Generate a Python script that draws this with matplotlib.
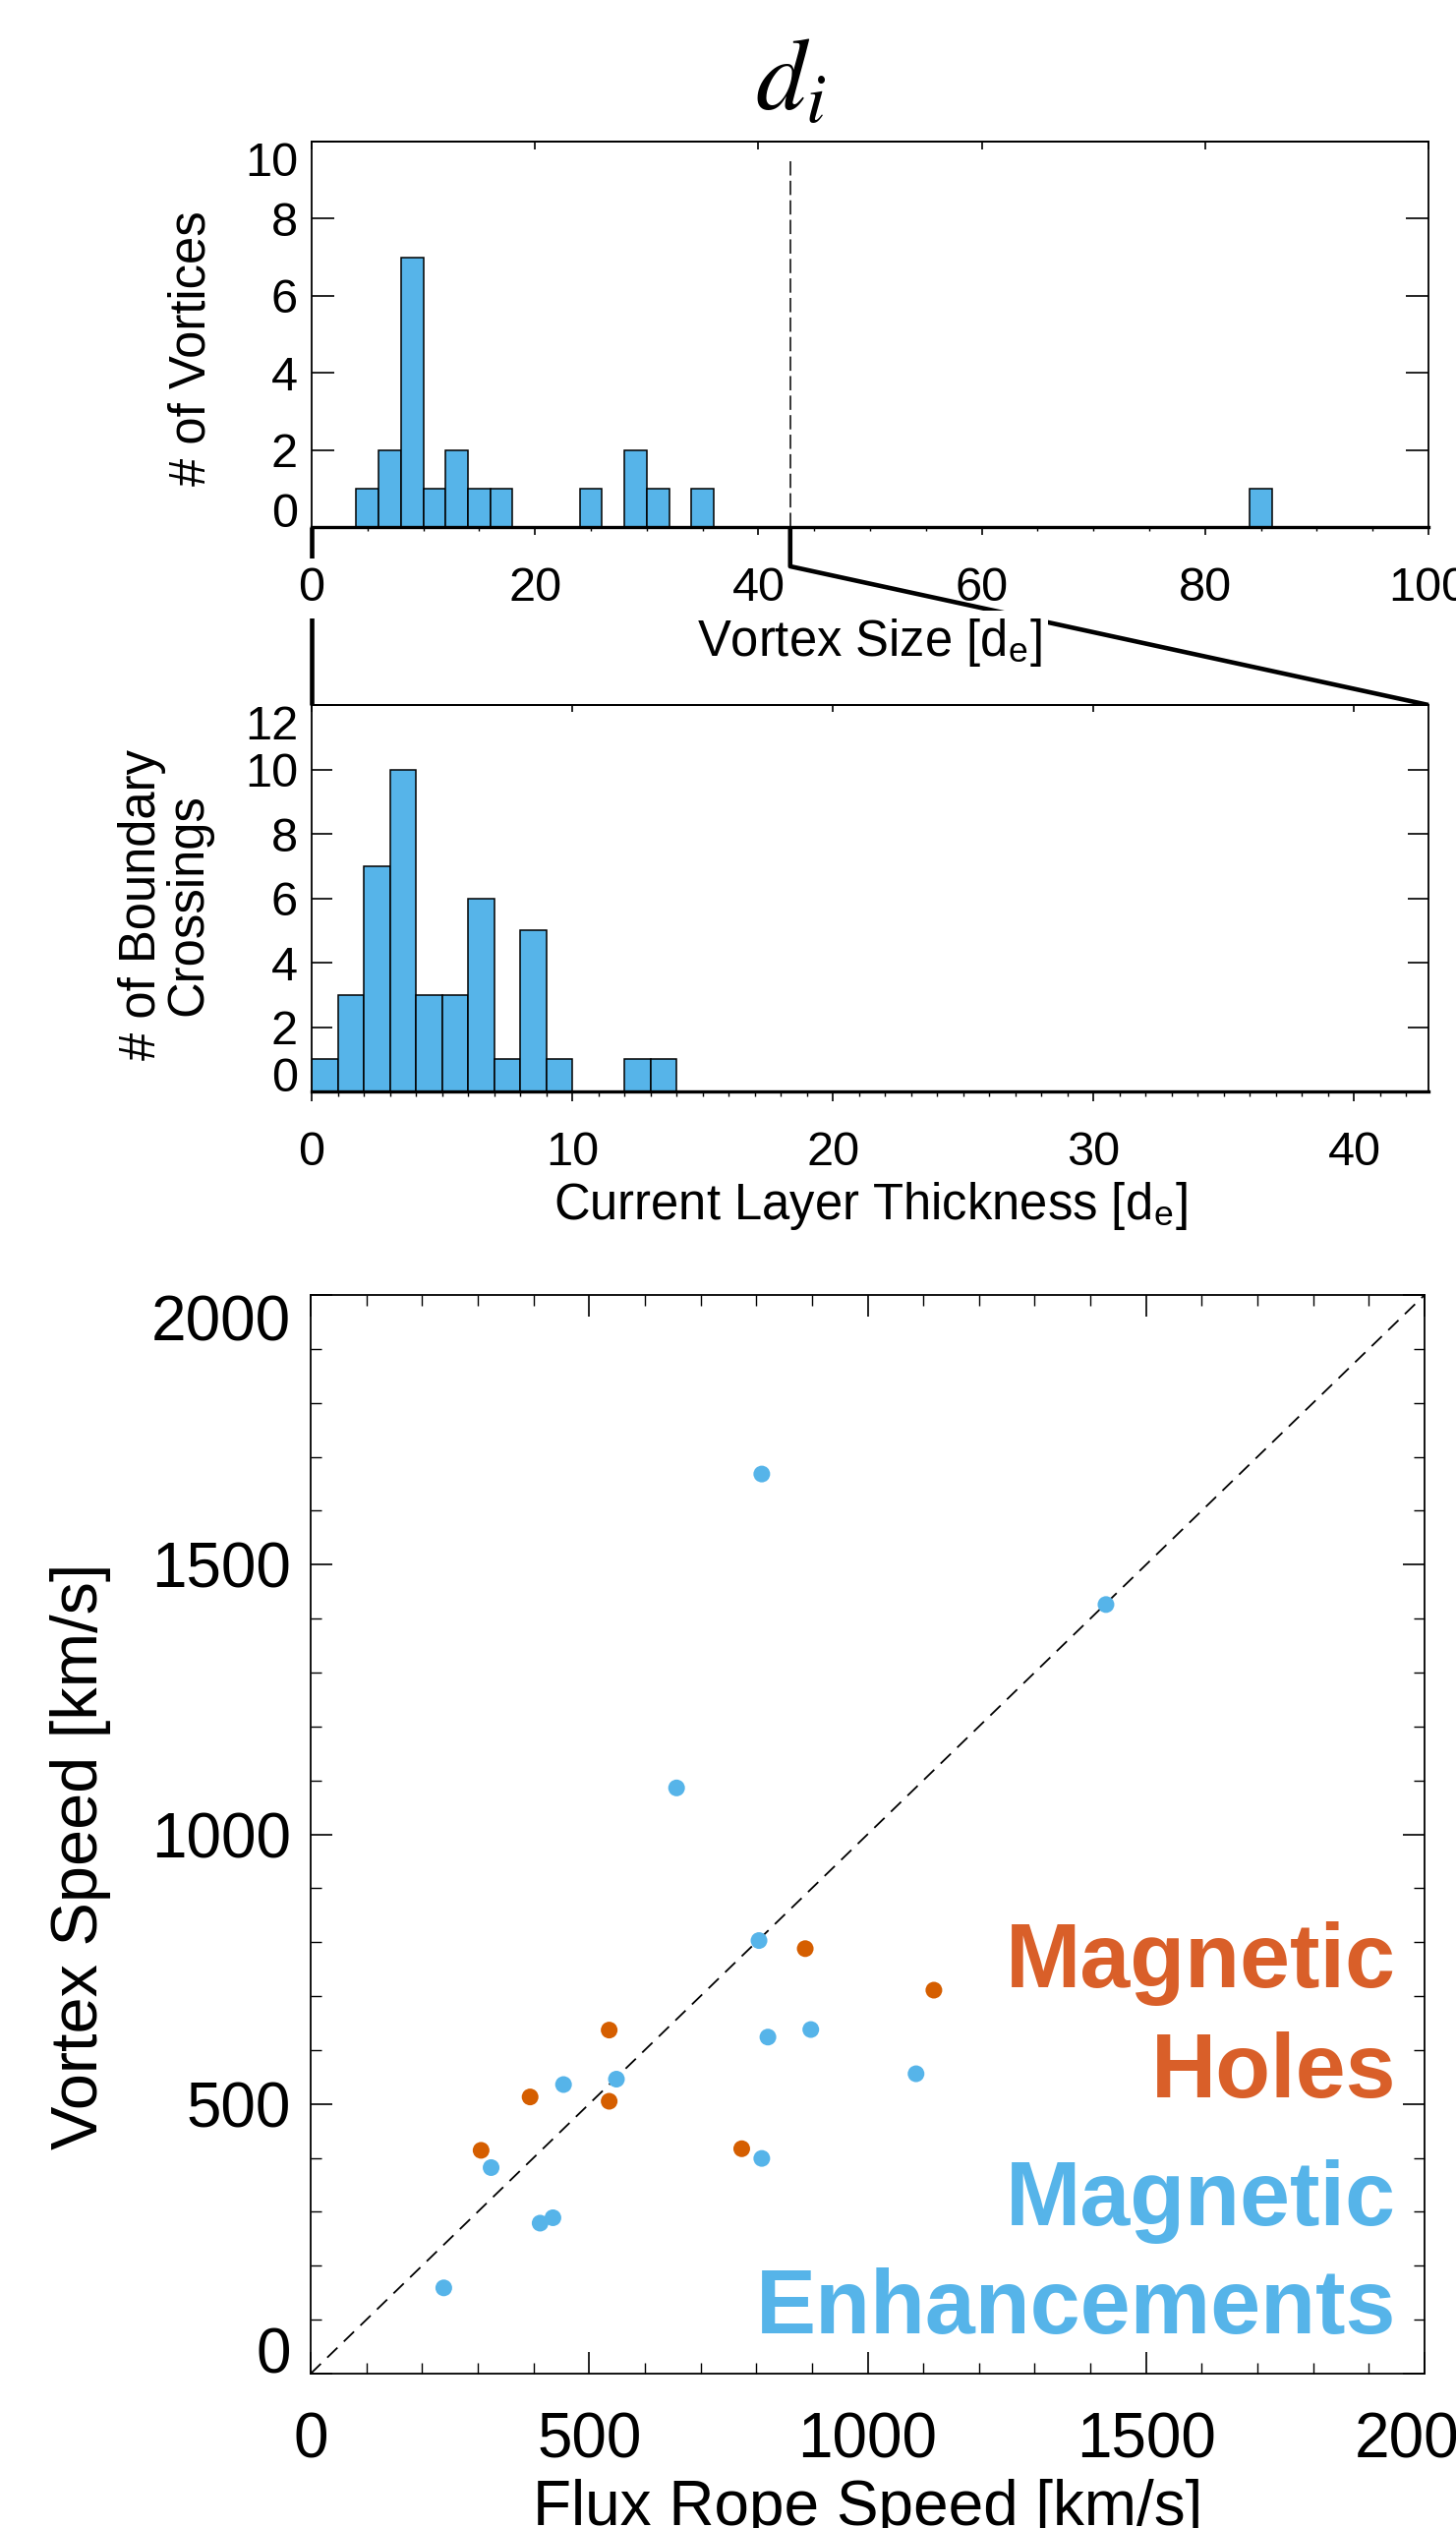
import numpy as np
import matplotlib
matplotlib.use("Agg")
import matplotlib.pyplot as plt
import matplotlib.transforms as mtransforms
from matplotlib.lines import Line2D
from matplotlib.ticker import MultipleLocator, FixedLocator

plt.rcParams['font.family'] = ['Liberation Sans', 'DejaVu Sans']
plt.rcParams['mathtext.fontset'] = 'custom'
plt.rcParams['mathtext.rm'] = 'Liberation Sans'
plt.rcParams['mathtext.it'] = 'STIXGeneral:italic'

# ---------------- data ----------------
di_in_de = 42.85  # ion inertial length in units of d_e

vortex_bin_left = [4, 6, 8, 10, 12, 14, 16, 24, 28, 30, 34, 84]
vortex_counts = [1, 2, 7, 1, 2, 1, 1, 1, 2, 1, 1, 1]
vortex_bin_width = 2
vortex_xticks = [0, 20, 40, 60, 80, 100]
vortex_yticks = [0, 2, 4, 6, 8, 10]

layer_bin_left = [0, 1, 2, 3, 4, 5, 6, 7, 8, 9, 12, 13]
layer_counts = [1, 3, 7, 10, 3, 3, 6, 1, 5, 1, 1, 1]
layer_bin_width = 1
layer_xticks = [0, 10, 20, 30, 40]
layer_yticks = [0, 2, 4, 6, 8, 10, 12]

holes_x = [888, 1119, 536, 394, 536, 306, 774]
holes_y = [788, 711, 637, 513, 505, 414, 417]
enh_x = [810, 1428, 657, 805, 821, 898, 1087, 454, 549, 324, 810, 412, 435, 239]
enh_y = [1668, 1426, 1086, 803, 624, 638, 556, 536, 546, 382, 399, 279, 289, 159]
speed_ticks = [0, 500, 1000, 1500, 2000]

BLUE = '#56B4E9'
ORANGE = '#D55E00'
ORANGE_TXT = '#D95F29'

# ---------------- figure ----------------
W, H = 1481, 2571
fig = plt.figure(figsize=(W / 100, H / 100), dpi=100)


def rect(l, t, r, b):
    return [l / W, 1 - b / H, (r - l) / W, (b - t) / H]


ax1 = fig.add_axes(rect(317, 144, 1453, 536))
ax2 = fig.add_axes(rect(317, 717, 1453, 1110))
ax3 = fig.add_axes(rect(316, 1317, 1449, 2414))

TICK_FS = 35
LAB_FS = 36.5
SC_FS = 46

for ax in (ax1, ax2, ax3):
    for s in ax.spines.values():
        s.set_linewidth(1.3)

# ---------------- top histogram ----------------
ax1.bar(vortex_bin_left, vortex_counts, width=vortex_bin_width, align='edge',
        color=BLUE, edgecolor='black', linewidth=1.1, zorder=2)
ax1.plot([di_in_de, di_in_de], [0, 9.6], color='black', lw=1.1,
         ls=(0, (9.5, 3.5)), zorder=3)
ax1.set_xlim(0, 100)
ax1.set_ylim(0, 10)
ax1.spines['bottom'].set_linewidth(2.4)
ax1.xaxis.set_major_locator(FixedLocator(vortex_xticks))
ax1.xaxis.set_minor_locator(MultipleLocator(5))
ax1.yaxis.set_major_locator(FixedLocator(vortex_yticks))
ax1.tick_params(axis='x', which='major', direction='out', length=5.8, width=1.2,
                top=False, pad=23, labelsize=TICK_FS)
ax1.tick_params(axis='x', which='minor', direction='out', length=2.9, width=1.0, top=False)
ax1.tick_params(axis='y', which='major', direction='in', length=16.5, width=1.2,
                left=True, right=True, pad=10, labelsize=TICK_FS)
sec1 = ax1.secondary_xaxis('top')
sec1.xaxis.set_major_locator(FixedLocator(vortex_xticks))
sec1.tick_params(axis='x', direction='in', length=5.8, width=1.2, labeltop=False)
sec1.spines['top'].set_linewidth(1.3)
ax1.set_xlabel('Vortex Size [d$_\\mathrm{e}$]', fontsize=LAB_FS, va='baseline')
ax1.xaxis.set_label_coords(0.5, -0.334)
ax1.xaxis.label.set_bbox(dict(facecolor='white', edgecolor='none', pad=4))
ax1.set_ylabel('# of Vortices', fontsize=LAB_FS, va='center')
ax1.yaxis.set_label_coords(-0.1074, 0.464)

# ---------------- middle histogram ----------------
ax2.bar(layer_bin_left, layer_counts, width=layer_bin_width, align='edge',
        color=BLUE, edgecolor='black', linewidth=1.1, zorder=2)
ax2.set_xlim(0, di_in_de)
ax2.set_ylim(0, 12)
ax2.spines['bottom'].set_linewidth(2.4)
ax2.xaxis.set_major_locator(FixedLocator(layer_xticks))
ax2.xaxis.set_minor_locator(MultipleLocator(1))
ax2.yaxis.set_major_locator(FixedLocator(layer_yticks))
ax2.tick_params(axis='x', which='major', direction='out', length=7.2, width=1.2,
                top=False, pad=21.6, labelsize=TICK_FS)
ax2.tick_params(axis='x', which='minor', direction='out', length=3.6, width=1.0, top=False)
ax2.tick_params(axis='y', which='major', direction='in', length=15, width=1.2,
                left=True, right=True, pad=10, labelsize=TICK_FS)
sec2 = ax2.secondary_xaxis('top')
sec2.xaxis.set_major_locator(FixedLocator(layer_xticks))
sec2.tick_params(axis='x', direction='in', length=5, width=1.2, labeltop=False)
sec2.spines['top'].set_linewidth(1.3)
ax2.set_xlabel('Current Layer Thickness [d$_\\mathrm{e}$]', fontsize=LAB_FS, va='baseline')
ax2.xaxis.set_label_coords(0.5, -0.331)
ax2.set_ylabel('# of Boundary\nCrossings', fontsize=LAB_FS, va='center',
               linespacing=0.95, multialignment='center')
ax2.yaxis.set_label_coords(-0.131, 0.483)

# ---------------- scatter ----------------
ax3.plot(speed_ticks[::len(speed_ticks) - 1], speed_ticks[::len(speed_ticks) - 1],
         color='black', lw=1.3, ls=(0, (8, 5)), zorder=1)
ax3.scatter(enh_x, enh_y, s=150, color=BLUE, edgecolors='none', zorder=3)
ax3.scatter(holes_x, holes_y, s=150, color=ORANGE, edgecolors='none', zorder=3)
ax3.set_xlim(0, 2000)
ax3.set_ylim(0, 2000)
ax3.xaxis.set_major_locator(FixedLocator(speed_ticks))
ax3.yaxis.set_major_locator(FixedLocator(speed_ticks))
ax3.xaxis.set_minor_locator(MultipleLocator(100))
ax3.yaxis.set_minor_locator(MultipleLocator(100))
ax3.tick_params(axis='both', which='major', direction='in', length=15.8, width=1.2,
                top=True, right=True, labelsize=SC_FS)
ax3.tick_params(axis='both', which='minor', direction='in', length=7.9, width=1.0,
                top=True, right=True)
ax3.tick_params(axis='x', which='major', pad=27.4)
ax3.tick_params(axis='y', which='major', pad=14.4)
ax3.set_xlabel('Flux Rope Speed [km/s]', fontsize=SC_FS, va='baseline')
ax3.xaxis.set_label_coords(0.5, -0.140)
ax3.set_ylabel('Vortex Speed [km/s]', fontsize=SC_FS + 2, va='center')
ax3.yaxis.set_label_coords(-0.2065, 0.4795)

txt_kw = dict(transform=ax3.transAxes, ha='right', va='baseline',
              fontsize=66, fontweight='bold')
ax3.text(0.9744, 0.3583, 'Magnetic', color=ORANGE_TXT, **txt_kw)
ax3.text(0.9744, 0.2562, 'Holes', color=ORANGE_TXT, **txt_kw)
ax3.text(0.9744, 0.1376, 'Magnetic', color=BLUE, **txt_kw)
ax3.text(0.9744, 0.0374, 'Enhancements', color=BLUE, **txt_kw)

# first / last y tick labels kept inside the axis range
for ax, n in ((ax1, len(vortex_yticks)), (ax2, len(layer_yticks)), (ax3, len(speed_ticks))):
    ticks = ax.yaxis.get_major_ticks(n)
    ticks[0].label1.set_va('baseline')
    ticks[-1].label1.set_va('top')

ax1.xaxis.get_major_ticks(len(vortex_xticks))[0].label1.set_bbox(
    dict(facecolor='white', edgecolor='none', pad=6))

# ---------------- title d_i ----------------
ttrans = mtransforms.blended_transform_factory(ax1.transData, fig.transFigure)
fig.text(di_in_de, 1 - 112 / H, r'$d_i$', transform=ttrans, ha='center',
         va='baseline', fontsize=74)

# ---------------- zoom connector lines ----------------
inv = fig.transFigure.inverted()


def fpt(trans, xy):
    return inv.transform(trans.transform(xy))


a = fpt(ax1.transData, (0, 0))
b = fpt(ax2.transData, (0, 12))
c = fpt(ax1.transData, (di_in_de, 0))
d = fpt(mtransforms.blended_transform_factory(ax1.transData, ax1.transAxes), (di_in_de, -0.102))
e = fpt(ax2.transData, (di_in_de, 12))
fig.add_artist(Line2D([a[0], b[0]], [a[1], b[1]], transform=fig.transFigure,
                      color='black', lw=3.3, zorder=-1, solid_capstyle='butt'))
fig.add_artist(Line2D([c[0], d[0], e[0]], [c[1], d[1], e[1]], transform=fig.transFigure,
                      color='black', lw=3.3, zorder=-1, solid_capstyle='butt'))

fig.savefig('out.png', dpi=100)
